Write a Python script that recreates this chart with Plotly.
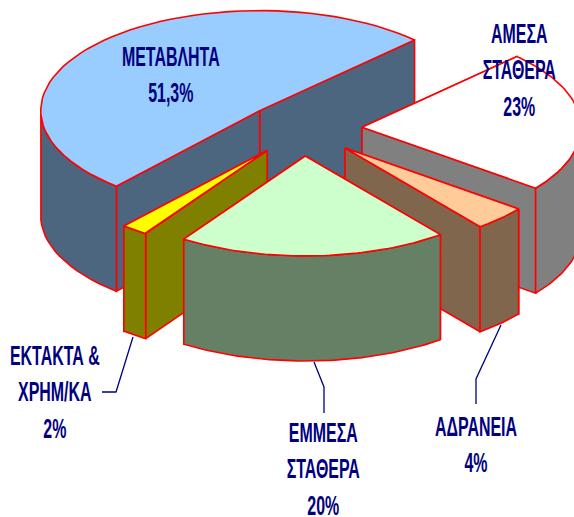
import numpy as np
import plotly.graph_objects as go

# Data, in clockwise order from the top right
categories = ["ΑΜΕΣΑ<br>ΣΤΑΘΕΡΑ", "ΑΔΡΑΝΕΙΑ", "ΕΜΜΕΣΑ<br>ΣΤΑΘΕΡΑ", "ΕΚΤΑΚΤΑ &<br>ΧΡΗΜ/ΚΑ", "ΜΕΤΑΒΛΗΤΑ"]
values = [23, 4, 20, 2, 51.3]
value_labels = ["23%", "4%", "20%", "2%", "51,3%"]
top_colors = ["#FFFFFF", "#FFCC99", "#CCFFCC", "#FFFF00", "#99CCFF"]
side_colors = ["#808080", "#80664D", "#668066", "#808000", "#4D6680"]
label_xy = [(519, 70), (476, 444), (323, 469), (55, 392), (171, 74)]
draw_order = [4, 0, 1, 3, 2]

W, H = 574, 517
CX, CY, RX, RY, DEPTH = 303, 129, 219, 100, 105
EXPLODE, START = 0.27, 45
RED, NAVY = "#FF0000", "#000080"
FONT = "Liberation Sans, Arial, sans-serif"

total = sum(values)
ends = START - np.cumsum(values) / total * 360
starts = np.r_[START, ends[:-1]]

fig = go.Figure()


def poly(xs, ys, color):
    fig.add_trace(go.Scatter(x=xs, y=ys, mode="lines", fill="toself", fillcolor=color,
                             line=dict(color=RED, width=1.6), hoverinfo="skip", showlegend=False))


for i in draw_order:
    a0, a1 = starts[i], ends[i]
    mid = np.radians((a0 + a1) / 2)
    ax = CX + EXPLODE * RX * np.cos(mid)
    ay = CY - EXPLODE * RY * np.sin(mid)
    ang = np.radians(np.linspace(a0, a1, 60))
    ex = ax + RX * np.cos(ang)
    ey = ay - RY * np.sin(ang)
    # the two cut faces, the one further back first
    faces = sorted([(ex[0], ey[0]), (ex[-1], ey[-1])], key=lambda p: p[1])
    for px, py in faces:
        poly([ax, px, px, ax, ax], [ay, py, py + DEPTH, ay + DEPTH, ay], side_colors[i])
    # outer wall: the part of the rim facing the viewer
    front = np.sin(ang) < 0
    if front.any():
        fx, fy = ex[front], ey[front]
        poly(np.r_[fx, fx[::-1], fx[0]], np.r_[fy, fy[::-1] + DEPTH, fy[0]], side_colors[i])
    # top face
    poly(np.r_[ax, ex, ax], np.r_[ay, ey, ay], top_colors[i])

# Leader lines
leaders = [([133, 116, 102], [337, 392, 392]),
           ([314, 324, 324], [362, 387, 413]),
           ([501, 476, 476], [325, 379, 404])]
for lx, ly in leaders:
    fig.add_trace(go.Scatter(x=lx, y=ly, mode="lines", line=dict(color=NAVY, width=1.3),
                             hoverinfo="skip", showlegend=False))

for cat, val, (x, y) in zip(categories, value_labels, label_xy):
    fig.add_annotation(x=x, y=y, xref="x", yref="y", text=f"{cat}<br>{val}", showarrow=False,
                       align="center", font=dict(family=FONT, size=28, color=NAVY, weight="bold"))

fig.update_xaxes(range=[0, W], visible=False, fixedrange=True)
fig.update_yaxes(range=[H, 0], visible=False, fixedrange=True)
fig.update_layout(width=W, height=H, margin=dict(l=0, r=0, t=0, b=0),
                  paper_bgcolor="white", plot_bgcolor="white")

# The page margin goes, and the labels are squeezed sideways to the reference's tall narrow lettering
post = """
document.body.style.margin = '0';
document.querySelectorAll('.annotation-text').forEach(function (t) {
  var b = t.getBBox(), c = b.x + b.width / 2;
  var old = t.getAttribute('transform') || '';
  t.setAttribute('transform', old + ' translate(' + c + ',0) scale(0.57,1) translate(' + (-c) + ',0)');
});
"""
fig.write_html("out.html", config=dict(displayModeBar=False), post_script=post)
